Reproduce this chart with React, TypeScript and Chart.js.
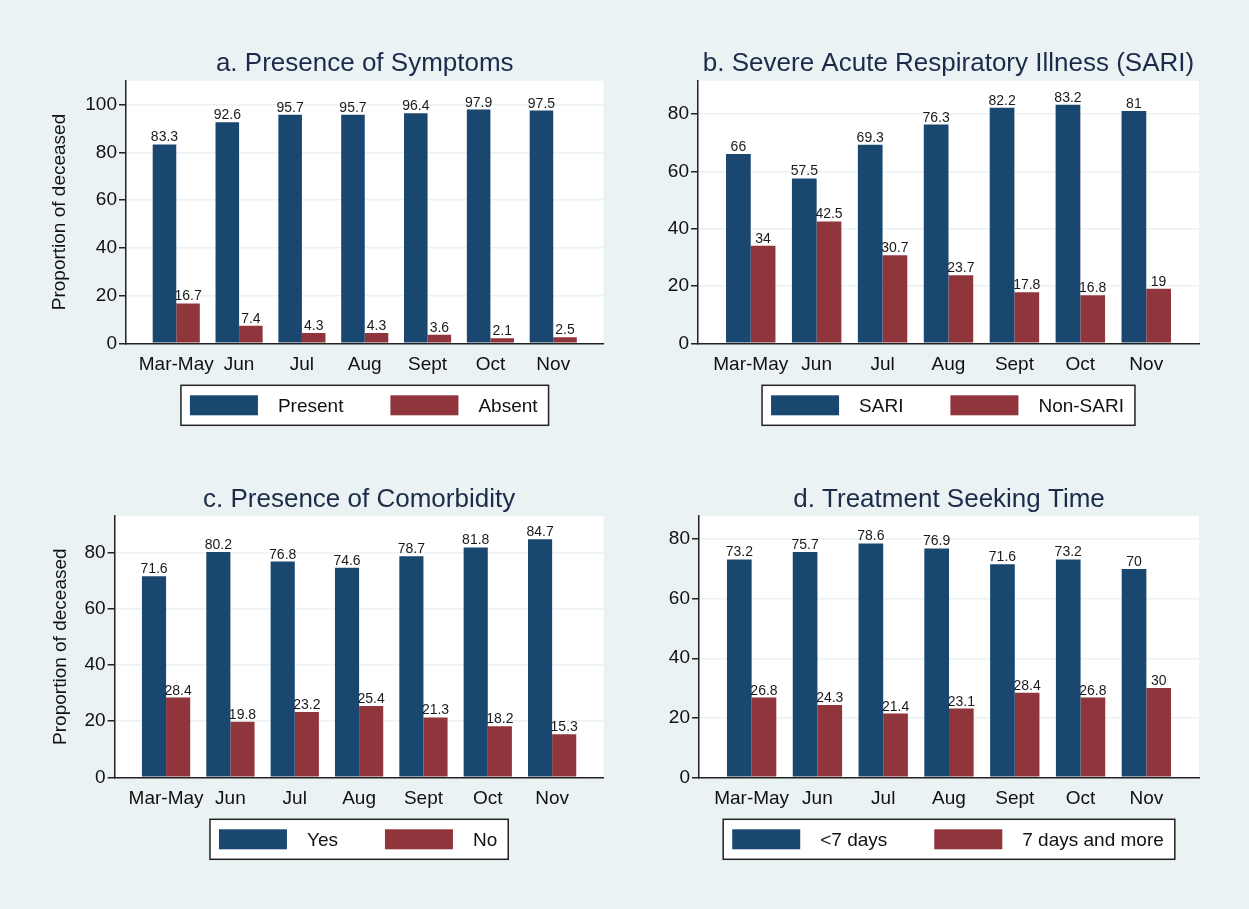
import React, { useEffect, useRef } from "react";
import { Chart, registerables } from "chart.js";

Chart.register(...registerables);

// ---------- data ----------
const months = ["Mar-May", "Jun", "Jul", "Aug", "Sept", "Oct", "Nov"];

const symptomsPresent = [83.3, 92.6, 95.7, 95.7, 96.4, 97.9, 97.5];
const symptomsAbsent = [16.7, 7.4, 4.3, 4.3, 3.6, 2.1, 2.5];

const sariYes = [66, 57.5, 69.3, 76.3, 82.2, 83.2, 81];
const sariNon = [34, 42.5, 30.7, 23.7, 17.8, 16.8, 19];

const comorbYes = [71.6, 80.2, 76.8, 74.6, 78.7, 81.8, 84.7];
const comorbNo = [28.4, 19.8, 23.2, 25.4, 21.3, 18.2, 15.3];

const seekLess7 = [73.2, 75.7, 78.6, 76.9, 71.6, 73.2, 70];
const seek7More = [26.8, 24.3, 21.4, 23.1, 28.4, 26.8, 30];

const ticksA = [0, 20, 40, 60, 80, 100];
const ticksB = [0, 20, 40, 60, 80];
const ticksC = [0, 20, 40, 60, 80];
const ticksD = [0, 20, 40, 60, 80];

const titleA = "a. Presence of Symptoms";
const titleB = "b. Severe Acute Respiratory Illness (SARI)";
const titleC = "c. Presence of Comorbidity";
const titleD = "d. Treatment Seeking Time";
const yAxisTitle = "Proportion of deceased";

// ---------- styles ----------
const FONT = "'Liberation Sans', Arial, Helvetica, sans-serif";
const BLUE = "#1a476f";
const RED = "#90353b";
const BG = "#eaf2f3";
const INK = "#111111";
const AXIS = "#222222";
const TITLE_INK = "#1c2b4a";

type Series = { label: string; data: number[]; color: string };
type PanelProps = {
  left: number;
  top: number;
  width: number;
  height: number;
  area: { l: number; t: number; r: number; b: number };
  title: string;
  yTitle?: string;
  yTitleX?: number;
  series: Series[];
  yMax: number;
  yTicks: number[];
};

function Panel(p: PanelProps) {
  const ref = useRef<HTMLCanvasElement | null>(null);

  useEffect(() => {
    if (!ref.current) return;
    const tickFont = 19;
    const titleLine = tickFont * 1.2;
    const padLeft = p.yTitle ? (p.yTitleX as number) - titleLine / 2 : 10;
    const xAxisH = 40;

    const plotBg = {
      id: "plotBg",
      beforeDraw(chart: any) {
        const { ctx, chartArea: a } = chart;
        ctx.save();
        ctx.fillStyle = "#ffffff";
        ctx.fillRect(a.left, a.top, a.right - a.left, a.bottom - a.top);
        ctx.restore();
      },
    };

    const decorations = {
      id: "decorations",
      afterDatasetsDraw(chart: any) {
        const { ctx } = chart;
        ctx.save();
        ctx.font = `14px ${FONT}`;
        ctx.fillStyle = "#1a1a1a";
        ctx.textAlign = "center";
        ctx.textBaseline = "alphabetic";
        chart.data.datasets.forEach((ds: any, i: number) => {
          const meta = chart.getDatasetMeta(i);
          meta.data.forEach((el: any, j: number) => {
            const v = ds.data[j].y;
            const { x, y } = el.getProps(["x", "y"], true);
            ctx.fillText(String(v), x, y - 3);
          });
        });
        ctx.restore();
      },
      afterDraw(chart: any) {
        const { ctx, chartArea: a } = chart;
        const cx = (a.left + a.right) / 2;
        ctx.save();
        // title
        ctx.font = `26px ${FONT}`;
        ctx.fillStyle = TITLE_INK;
        ctx.textAlign = "center";
        ctx.textBaseline = "alphabetic";
        ctx.fillText(p.title, cx, a.top - 9.5);

        // legend
        ctx.font = `19px ${FONT}`;
        const items = chart.data.datasets.map((d: any) => ({
          label: d.label as string,
          color: d.backgroundColor as string,
        }));
        const padL = 9,
          padR = 11,
          sw = 68,
          sh = 20,
          gap1 = 20,
          gap2 = 47,
          h = 40;
        const widths = items.map((it: any) => ctx.measureText(it.label).width);
        let total = padL + padR + gap2 * (items.length - 1);
        widths.forEach((w: number) => (total += sw + gap1 + w));
        const x0 = cx - total / 2;
        const y0 = a.bottom + 42;
        ctx.fillStyle = "#ffffff";
        ctx.fillRect(x0, y0, total, h);
        ctx.strokeStyle = AXIS;
        ctx.lineWidth = 1.5;
        ctx.strokeRect(x0, y0, total, h);
        let x = x0 + padL;
        items.forEach((it: any, i: number) => {
          ctx.fillStyle = it.color;
          ctx.fillRect(x, y0 + (h - sh) / 2, sw, sh);
          x += sw + gap1;
          ctx.fillStyle = INK;
          ctx.textAlign = "left";
          ctx.textBaseline = "middle";
          ctx.fillText(it.label, x, y0 + h / 2 + 1);
          x += widths[i] + gap2;
        });
        ctx.restore();
      },
    };

    const chart = new Chart(ref.current, {
      type: "bar",
      data: {
        datasets: p.series.map((s) => ({
          label: s.label,
          data: s.data.map((v, i) => ({ x: i, y: v })),
          backgroundColor: s.color,
          borderWidth: 0,
          categoryPercentage: 0.75,
          barPercentage: 1.0,
        })),
      },
      options: {
        responsive: false,
        animation: false,
        devicePixelRatio: 1,
        layout: {
          padding: {
            left: padLeft,
            top: p.area.t,
            right: p.width - p.area.r,
            bottom: p.height - p.area.b - xAxisH,
          },
        },
        plugins: {
          legend: { display: false },
          title: { display: false },
          tooltip: { enabled: false },
        },
        scales: {
          x: {
            type: "linear",
            min: -0.8,
            max: 6.8,
            offset: false,
            afterBuildTicks: (scale: any) => {
              scale.ticks = months.map((_, i) => ({ value: i }));
            },
            afterFit: (scale: any) => {
              scale.height = xAxisH;
            },
            grid: { display: false, drawTicks: false, offset: false },
            border: { display: true, color: AXIS, width: 1.5 },
            ticks: {
              autoSkip: false,
              maxRotation: 0,
              padding: 10,
              color: INK,
              font: { family: FONT, size: tickFont },
              callback: (v: any) => months[v as number] ?? "",
            },
          },
          y: {
            type: "linear",
            min: 0,
            max: p.yMax,
            afterBuildTicks: (scale: any) => {
              scale.ticks = p.yTicks.map((v) => ({ value: v }));
            },
            afterFit: (scale: any) => {
              scale.width = p.area.l - padLeft;
            },
            grid: {
              color: (c: any) => (c.tick && c.tick.value === 0 ? "rgba(0,0,0,0)" : BG),
              lineWidth: 1.5,
              tickColor: AXIS,
              tickWidth: 1.5,
              tickLength: 7,
              drawTicks: true,
            },
            border: { display: true, color: AXIS, width: 1.5 },
            ticks: {
              padding: 2,
              color: INK,
              font: { family: FONT, size: tickFont },
            },
            title: {
              display: !!p.yTitle,
              text: p.yTitle || "",
              color: INK,
              padding: 0,
              font: { family: FONT, size: tickFont, lineHeight: 1.2 },
            },
          },
        },
      } as any,
      plugins: [plotBg, decorations],
    });
    return () => chart.destroy();
  }, []);

  return (
    <canvas
      ref={ref}
      width={p.width}
      height={p.height}
      style={{
        position: "absolute",
        left: p.left,
        top: p.top,
        width: p.width,
        height: p.height,
      }}
    />
  );
}

export default function App() {
  return (
    <div
      style={{
        position: "absolute",
        left: 0,
        top: 0,
        width: 1249,
        height: 909,
        background: BG,
        overflow: "hidden",
      }}
    >
      <Panel
        left={0}
        top={0}
        width={620}
        height={440}
        area={{ l: 126, t: 80.7, r: 603.5, b: 343.3 }}
        title={titleA}
        yTitle={yAxisTitle}
        yTitleX={60}
        yMax={110}
        yTicks={ticksA}
        series={[
          { label: "Present", data: symptomsPresent, color: BLUE },
          { label: "Absent", data: symptomsAbsent, color: RED },
        ]}
      />
      <Panel
        left={620}
        top={0}
        width={629}
        height={440}
        area={{ l: 78, t: 80.7, r: 579, b: 343.3 }}
        title={titleB}
        yMax={91.6}
        yTicks={ticksB}
        series={[
          { label: "SARI", data: sariYes, color: BLUE },
          { label: "Non-SARI", data: sariNon, color: RED },
        ]}
      />
      <Panel
        left={0}
        top={440}
        width={620}
        height={469}
        area={{ l: 114.6, t: 76, r: 603.6, b: 337.3 }}
        title={titleC}
        yTitle={yAxisTitle}
        yTitleX={60.5}
        yMax={93}
        yTicks={ticksC}
        series={[
          { label: "Yes", data: comorbYes, color: BLUE },
          { label: "No", data: comorbNo, color: RED },
        ]}
      />
      <Panel
        left={620}
        top={440}
        width={629}
        height={469}
        area={{ l: 79, t: 76, r: 579, b: 337.3 }}
        title={titleD}
        yMax={87.8}
        yTicks={ticksD}
        series={[
          { label: "<7 days", data: seekLess7, color: BLUE },
          { label: "7 days and more", data: seek7More, color: RED },
        ]}
      />
    </div>
  );
}
